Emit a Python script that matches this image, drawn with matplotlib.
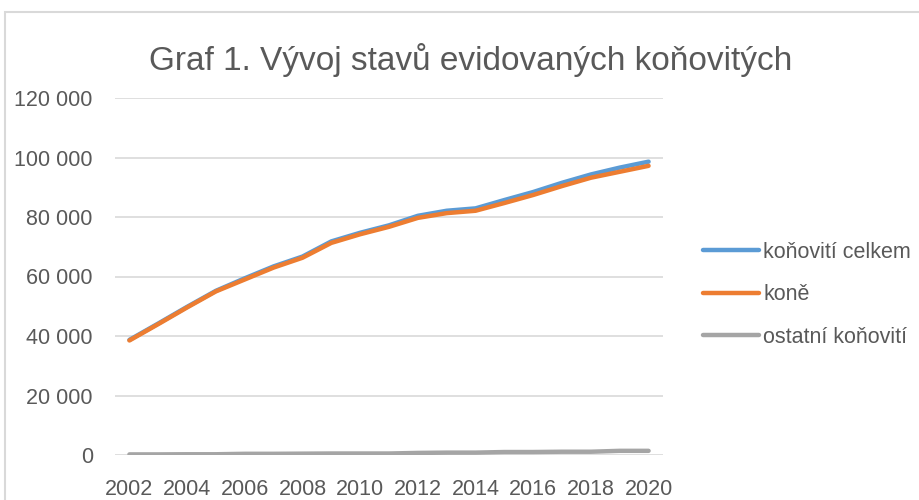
import matplotlib
matplotlib.use("Agg")
import matplotlib.pyplot as plt
from matplotlib.ticker import FuncFormatter, MultipleLocator
from matplotlib.patches import Rectangle

roky = list(range(2002, 2021))
konovite_celkem = [38700, 44200, 49800, 55200, 59400, 63400, 66700, 71800, 74700,
                   77200, 80400, 82100, 82900, 85700, 88400, 91500, 94300, 96600, 98600]
kone = [38500, 44000, 49600, 55000, 59000, 63000, 66300, 71300, 74200,
        76700, 79700, 81300, 82100, 84700, 87400, 90400, 93200, 95200, 97200]
ostatni = [200, 200, 250, 250, 400, 400, 450, 500, 500,
           500, 700, 800, 800, 1000, 1000, 1100, 1100, 1400, 1400]

sedy_text = "#595959"
plt.rcParams['font.family'] = ['Liberation Sans', 'DejaVu Sans']

fig = plt.figure(figsize=(9.19, 5.0), dpi=100)
ax = fig.add_axes([115/919, 45/500, 548/919, 357/500])

ax.plot(roky, konovite_celkem, color="#5B9BD5", lw=3.2, label="koňovití celkem",
        solid_capstyle="round", zorder=3)
ax.plot(roky, kone, color="#ED7D31", lw=3.2, label="koně",
        solid_capstyle="round", zorder=4)
ax.plot(roky, ostatni, color="#A5A5A5", lw=3.2, label="ostatní koňovití",
        solid_capstyle="round", zorder=3)

ax.set_xlim(2001.5, 2020.5)
ax.set_ylim(0, 120000)
ax.xaxis.set_major_locator(MultipleLocator(2))
ax.yaxis.set_major_locator(MultipleLocator(20000))
ax.yaxis.set_major_formatter(FuncFormatter(lambda v, p: f"{v:,.0f}".replace(",", " ")))
ax.grid(axis="y", color="#d9d9d9", lw=1.2, zorder=0)
ax.set_axisbelow(True)
for s in ax.spines.values():
    s.set_visible(False)
ax.tick_params(axis="both", length=0, labelsize=15.5, labelcolor=sedy_text)
ax.tick_params(axis="y", pad=16)
ax.tick_params(axis="x", pad=17)

fig.text(471/919, 1 - 60/500, "Graf 1. Vývoj stavů evidovaných koňovitých",
         ha="center", va="center", fontsize=24, color=sedy_text)

leg = fig.legend(loc="center left", bbox_to_anchor=(703/919, 1 - 295/500),
                 frameon=False, fontsize=15.5, handlelength=2.6, handletextpad=0.2,
                 labelspacing=1.0, borderpad=0, borderaxespad=0)
for t in leg.get_texts():
    t.set_color(sedy_text)

fig.patches.append(Rectangle((5/919, -0.1), 2, 1 - 12/500 + 0.1, transform=fig.transFigure,
                             fill=False, edgecolor="#d9d9d9", lw=1.5))

fig.savefig("out.png", dpi=100)
